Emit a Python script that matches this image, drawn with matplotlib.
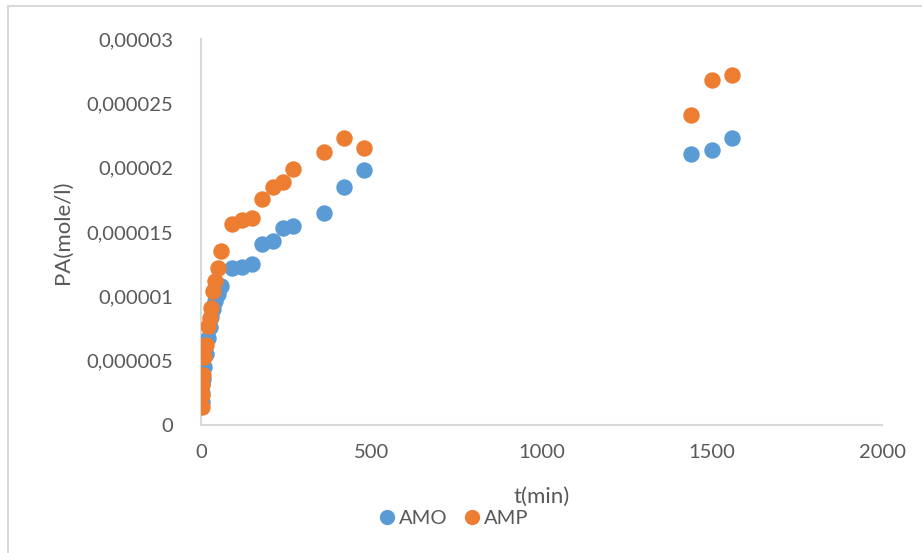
import matplotlib
matplotlib.use("Agg")
import matplotlib.pyplot as plt
from matplotlib.ticker import FuncFormatter, MultipleLocator
from matplotlib.lines import Line2D

# Sampling times (min)
t_amo = [2, 3, 4, 5, 10, 15, 20, 25, 30, 35, 40, 50, 60,
         90, 120, 150, 180, 210, 240, 270, 360, 420, 480, 1440, 1500, 1560]
t_amp = [2, 3, 4, 5, 10, 15, 20, 25, 30, 35, 40, 50, 60,
         90, 120, 150, 180, 210, 240, 270, 360, 420, 480, 1440, 1500, 1560]

# Concentrations (mole/l)
pa_amo = [1.8e-6, 2.5e-6, 3.2e-6, 3.6e-6, 4.5e-6, 5.5e-6, 6.8e-6, 7.6e-6, 8.4e-6,
          9.0e-6, 9.6e-6, 10.2e-6, 10.8e-6,
          12.2e-6, 12.3e-6, 12.5e-6, 14.1e-6, 14.3e-6, 15.3e-6, 15.5e-6,
          16.5e-6, 18.5e-6, 19.8e-6, 21.1e-6, 21.4e-6, 22.3e-6]
pa_amp = [1.4e-6, 2.3e-6, 3.1e-6, 3.9e-6, 5.3e-6, 6.2e-6, 7.7e-6, 8.3e-6, 9.1e-6,
          10.4e-6, 11.2e-6, 12.2e-6, 13.5e-6,
          15.6e-6, 15.9e-6, 16.1e-6, 17.6e-6, 18.5e-6, 18.9e-6, 19.9e-6,
          21.2e-6, 22.3e-6, 21.5e-6, 24.1e-6, 26.8e-6, 27.2e-6]

BLUE = "#5B9BD5"
ORANGE = "#ED7D31"
GREY_TXT = "#595959"
GREY_LINE = "#D9D9D9"

plt.rcParams["font.family"] = ["Lato", "DejaVu Sans"]

fig = plt.figure(figsize=(9.22, 5.53), dpi=100)
ax = fig.add_axes([201 / 922, 1 - 425 / 553, (882 - 201) / 922, (425 - 39) / 553])

ax.scatter(t_amo, pa_amo, s=140, color=BLUE, zorder=3, linewidths=0)
ax.scatter(t_amp, pa_amp, s=140, color=ORANGE, zorder=4, linewidths=0)

ax.set_xlim(0, 2000)
ax.set_ylim(0, 0.00003)
ax.xaxis.set_major_locator(MultipleLocator(500))
ax.yaxis.set_major_locator(MultipleLocator(0.000005))


def comma_fmt(v, pos):
    if abs(v) < 1e-12:
        return "0"
    s = f"{v:.6f}".rstrip("0").rstrip(".")
    return s.replace(".", ",")


ax.yaxis.set_major_formatter(FuncFormatter(comma_fmt))
ax.xaxis.set_major_formatter(FuncFormatter(lambda v, p: f"{int(round(v))}"))

for side in ("top", "right"):
    ax.spines[side].set_visible(False)
for side in ("left", "bottom"):
    ax.spines[side].set_color(GREY_LINE)
    ax.spines[side].set_linewidth(1.5)

ax.tick_params(axis="both", length=0, labelsize=14.5, colors=GREY_TXT)
ax.tick_params(axis="y", pad=20)
ax.tick_params(axis="x", pad=14)

ax.set_xlabel("t(min)", fontsize=16, color=GREY_TXT, labelpad=18)
ax.set_ylabel("PA(mole/l)", fontsize=16, color=GREY_TXT, labelpad=10)

handles = [
    Line2D([], [], marker="o", linestyle="none", markersize=11,
           markerfacecolor=BLUE, markeredgewidth=0, label="AMO"),
    Line2D([], [], marker="o", linestyle="none", markersize=11,
           markerfacecolor=ORANGE, markeredgewidth=0, label="AMP"),
]
leg = fig.legend(handles=handles, loc="center", bbox_to_anchor=(452 / 922, 1 - 518 / 553),
                 ncol=2, frameon=False, fontsize=14.5, handletextpad=0.0,
                 columnspacing=0.6, handlelength=1.2, labelcolor=GREY_TXT,
                 borderpad=0.0)

# Light border around the chart area
fig.add_artist(Line2D([8 / 922, 8 / 922], [0, 1 - 6 / 553], transform=fig.transFigure,
                      color=GREY_LINE, linewidth=1.5))
fig.add_artist(Line2D([8 / 922, 1], [1 - 6 / 553, 1 - 6 / 553], transform=fig.transFigure,
                      color=GREY_LINE, linewidth=1.5))

fig.savefig("out.png", dpi=100)
